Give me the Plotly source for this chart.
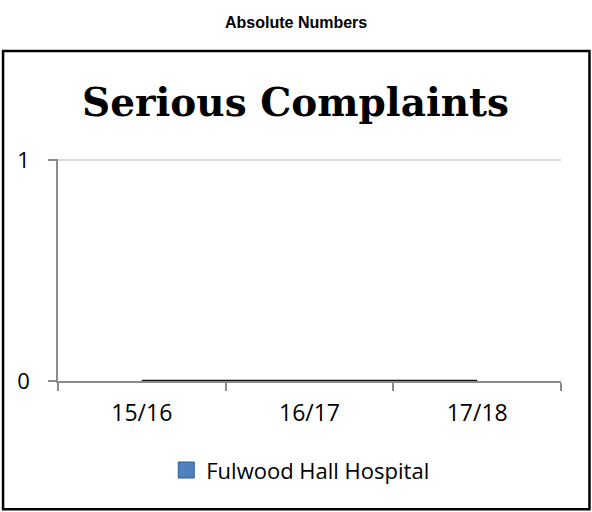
import plotly.graph_objects as go

categories = ["15/16", "16/17", "17/18"]
values = [0, 0, 0]
series_name = "Fulwood Hall Hospital"
y_ticks = [0, 1]

# pixel geometry of plot area
L, R, T, B = 57.5, 561.0, 158.5, 380.7
W, H = R - L, B - T
def px(x):
    return (x - L) / W
def py(y):
    return (B - y) / H

TICK_FONT = "Open Sans, Lato, sans-serif"

fig = go.Figure()
fig.add_trace(go.Scatter(
    x=categories, y=values, mode="lines", fill="tozeroy",
    line=dict(color="#111111", width=2.5), fillcolor="#4f81bd",
    showlegend=False, name=series_name,
))
fig.add_trace(go.Scatter(
    x=[None], y=[None], name=series_name, mode="markers",
    marker=dict(symbol="square", size=16, color="#4f81bd", line=dict(color="#2c5d9a", width=1)),
    showlegend=True,
))

fig.update_layout(
    width=592, height=512,
    margin=dict(l=L, r=592 - R, t=T, b=512 - B, pad=0),
    paper_bgcolor="white", plot_bgcolor="white",
    showlegend=True,
    legend=dict(orientation="h", x=px(300), y=py(470), xanchor="center", yanchor="middle",
                font=dict(family=TICK_FONT, size=22, color="#000"),
                itemwidth=30,
                bgcolor="rgba(0,0,0,0)"),
    xaxis=dict(
        type="category", range=[-0.5, 2.5], showline=True, linecolor="#8c8c8c", linewidth=1.5,
        ticks="outside", tickson="boundaries", ticklen=8, tickcolor="#8c8c8c", tickwidth=1.5,
        showgrid=False, zeroline=False,
        tickfont=dict(family=TICK_FONT, size=23, color="#000"),
        ticklabelstandoff=11,
    ),
    yaxis=dict(
        range=[0, 1.005], tickvals=y_ticks, ticktext=[str(v) for v in y_ticks],
        showline=True, linecolor="#8c8c8c", linewidth=1.5,
        ticks="outside", ticklen=8, tickcolor="#8c8c8c", tickwidth=1.5,
        showgrid=True, gridcolor="#d9d9d9", gridwidth=1.5, zeroline=False,
        tickfont=dict(family=TICK_FONT, size=22, color="#000"),
        ticklabelstandoff=14,
    ),
)

fig.add_shape(type="rect", xref="paper", yref="paper",
              x0=px(2.5), x1=px(589.5), y0=py(50.5), y1=py(509),
              line=dict(color="#000", width=2.5), layer="above")

fig.add_annotation(text="<b>Absolute Numbers</b>", xref="paper", yref="paper",
                   x=px(296), y=py(22), xanchor="center", yanchor="middle", showarrow=False,
                   font=dict(family="Liberation Sans, Arial, sans-serif", size=16, color="#000"))
fig.add_annotation(text="<b>Serious Complaints</b>", xref="paper", yref="paper",
                   x=px(295), y=py(101), xanchor="center", yanchor="middle", showarrow=False,
                   font=dict(family="DejaVu Serif, Liberation Serif, serif", size=39, color="#000"))

fig.write_html("out.html")
